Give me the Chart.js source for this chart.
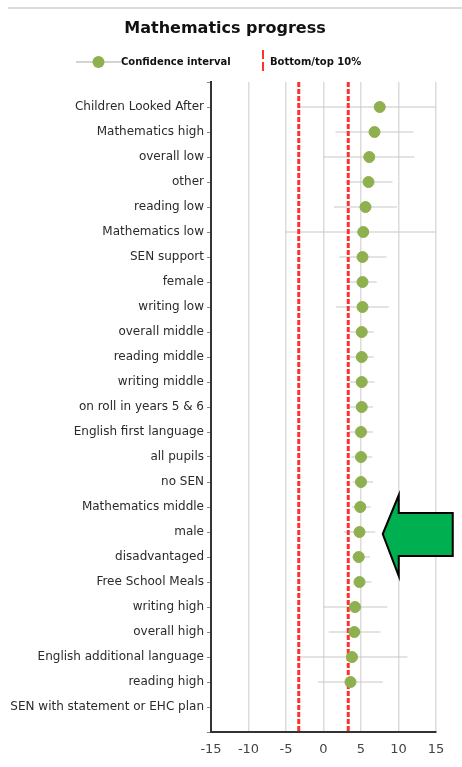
<!DOCTYPE html>
<html>
<head>
<meta charset="utf-8">
<script src="https://cdn.jsdelivr.net/npm/chart.js@4"></script>
<style>
  html, body { margin: 0; padding: 0; background: #fff; }
  #wrap { position: relative; width: 462px; height: 767px; }
</style>
</head>
<body>
<div id="wrap"><canvas id="c" width="462" height="767"></canvas></div>
<script>
// ---- data ----
const categories = [
  "Children Looked After", "Mathematics high", "overall low", "other", "reading low",
  "Mathematics low", "SEN support", "female", "writing low", "overall middle",
  "reading middle", "writing middle", "on roll in years 5 & 6", "English first language",
  "all pupils", "no SEN", "Mathematics middle", "male", "disadvantaged",
  "Free School Meals", "writing high", "overall high", "English additional language",
  "reading high", "SEN with statement or EHC plan"
];
const progress = [7.5, 6.8, 6.1, 6.0, 5.6, 5.3, 5.2, 5.2, 5.2, 5.1, 5.1, 5.1, 5.1, 5.0,
  5.0, 5.0, 4.9, 4.8, 4.7, 4.8, 4.2, 4.1, 3.8, 3.6, null];
const ciLower = [-3.2, 1.6, 0.0, 2.9, 1.4, -5.1, 2.1, 3.5, 1.7, 3.5, 3.5, 3.5, 3.5, 3.4,
  3.7, 3.9, 3.8, 2.7, 3.8, 4.0, 0.0, 0.7, -3.4, -0.7, null];
const ciUpper = [15, 12.0, 12.1, 9.2, 9.8, 15, 8.4, 7.1, 8.7, 6.7, 6.7, 6.8, 6.6, 6.6,
  6.5, 6.6, 6.3, 6.9, 6.2, 6.4, 8.5, 7.6, 11.2, 7.9, null];
const bottomTop10 = [-3.3, 3.3];
const xTicks = [-15, -10, -5, 0, 5, 10, 15];
const arrowTarget = { category: "male", x: 7.9 };

// ---- build datasets ----
const pointData = [];
const ciData = [];
categories.forEach((c, i) => {
  if (progress[i] !== null) {
    pointData.push({ x: progress[i], y: i + 1 });
    ciData.push({ x: ciLower[i], y: i + 1 }, { x: ciUpper[i], y: i + 1 }, { x: null, y: null });
  }
});
const refData = [];
bottomTop10.forEach(v => {
  refData.push({ x: v, y: 0 }, { x: v, y: categories.length + 1 }, { x: null, y: null });
});

const GREEN = '#8fb04f';
const FONT = "'DejaVu Sans', Verdana, sans-serif";

const decor = {
  id: 'decor',
  beforeDraw(chart) {
    const ctx = chart.ctx;
    ctx.save();
    ctx.fillStyle = '#fff';
    ctx.fillRect(0, 0, chart.width, chart.height);
    ctx.restore();
  },
  afterDraw(chart) {
    const ctx = chart.ctx;
    ctx.save();
    // top border line
    ctx.strokeStyle = '#dcdcdc';
    ctx.lineWidth = 2;
    ctx.beginPath(); ctx.moveTo(8, 8); ctx.lineTo(462, 8); ctx.stroke();
    // title
    ctx.fillStyle = '#111';
    ctx.font = "bold 16px " + FONT;
    ctx.textAlign = 'center'; ctx.textBaseline = 'middle';
    ctx.fillText('Mathematics progress', 225, 29);
    // legend: confidence interval
    const ly = 62;
    ctx.strokeStyle = '#c4c4c4'; ctx.lineWidth = 1.5;
    ctx.beginPath(); ctx.moveTo(76, ly); ctx.lineTo(121, ly); ctx.stroke();
    ctx.fillStyle = GREEN;
    ctx.beginPath(); ctx.arc(98.5, ly, 6, 0, Math.PI * 2); ctx.fill();
    ctx.fillStyle = '#111';
    ctx.font = "bold 10px " + FONT;
    ctx.textAlign = 'left';
    ctx.fillText('Confidence interval', 121, ly);
    // legend: red dashed
    ctx.strokeStyle = '#ff3030'; ctx.lineWidth = 2;
    ctx.setLineDash([9, 3]);
    ctx.beginPath(); ctx.moveTo(263, 50); ctx.lineTo(263, 74); ctx.stroke();
    ctx.setLineDash([]);
    ctx.fillText('Bottom/top 10%', 270, ly);
    // arrow annotation
    const xs = chart.scales.x, ys = chart.scales.y;
    const tx = xs.getPixelForValue(arrowTarget.x);
    const ty = ys.getPixelForValue(categories.indexOf(arrowTarget.category) + 1) + 2;
    ctx.beginPath();
    ctx.moveTo(tx, ty);
    ctx.lineTo(tx + 16, ty - 39);
    ctx.lineTo(tx + 16, ty - 21);
    ctx.lineTo(tx + 70, ty - 21);
    ctx.lineTo(tx + 70, ty + 22);
    ctx.lineTo(tx + 16, ty + 22);
    ctx.lineTo(tx + 16, ty + 42);
    ctx.closePath();
    ctx.fillStyle = '#00b050';
    ctx.fill();
    ctx.strokeStyle = '#000'; ctx.lineWidth = 2; ctx.lineJoin = 'miter';
    ctx.stroke();
    ctx.restore();
  }
};

new Chart(document.getElementById('c'), {
  type: 'scatter',
  data: {
    datasets: [
      { label: 'Confidence interval', data: pointData, backgroundColor: GREEN, borderColor: GREEN,
        pointRadius: 5.5, pointHoverRadius: 5.5, order: 0 },
      { type: 'line', label: 'Bottom/top 10%', data: refData, borderColor: '#ff3030', borderWidth: 3,
        borderDash: [5, 2], pointRadius: 0, spanGaps: false, fill: false, order: 1 },
      { type: 'line', label: 'CI', data: ciData, borderColor: '#c8c8c8', borderWidth: 1.2,
        pointRadius: 0, spanGaps: false, fill: false, order: 2 }
    ]
  },
  options: {
    responsive: false,
    animation: false,
    devicePixelRatio: 1,
    layout: { padding: { top: 82, right: 26, bottom: 0, left: 0 } },
    plugins: { legend: { display: false }, title: { display: false }, tooltip: { enabled: false } },
    scales: {
      x: {
        type: 'linear', min: -15, max: 15,
        afterBuildTicks(scale) { scale.ticks = xTicks.map(v => ({ value: v })); },
        afterFit(scale) { scale.height = 35; },
        ticks: { color: '#444', font: { family: FONT, size: 13 }, padding: 10 },
        grid: { color: '#dcdcdc', lineWidth: 1.5, drawTicks: false },
        border: { color: '#333', width: 2 }
      },
      y: {
        type: 'linear', min: 0, max: categories.length + 1, reverse: true,
        afterFit(scale) { scale.width = 211; },
        ticks: {
          stepSize: 1, autoSkip: false, color: '#2a2a2a', padding: 3,
          font: { family: FONT, size: 12 },
          callback: v => (v >= 1 && v <= categories.length) ? categories[v - 1] : ''
        },
        grid: { drawOnChartArea: false, drawTicks: true, tickLength: 4, color: '#888' },
        border: { color: '#333', width: 2 }
      }
    }
  },
  plugins: [decor]
});
</script>
</body>
</html>
